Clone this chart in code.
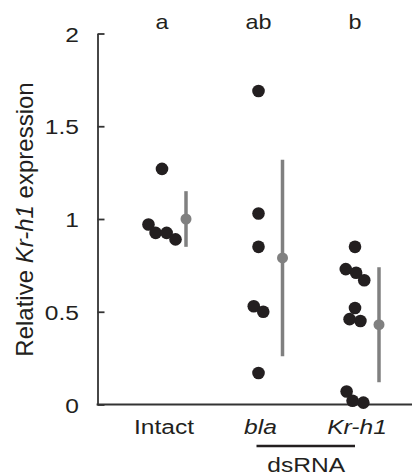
<!DOCTYPE html>
<html>
<head>
<meta charset="utf-8">
<script src="https://cdn.jsdelivr.net/npm/d3@7"></script>
<style>
  html, body { margin: 0; padding: 0; background: #fff; }
  svg { display: block; font-family: "Liberation Sans", Arial, sans-serif; }
</style>
</head>
<body>
<div id="d3-container"></div>
<script>
/**
 * CONSTANTS AND GLOBALS
 * */
const width = 414,
  height = 476,
  margin = { top: 33.5, bottom: 71.5, left: 97.5, right: 2 },
  radius = 6.3,
  meanRadius = 5.5,
  stretch = 1.17; // the figure's lettering is a little wider than Arial

// DATA
const groups = ["Intact", "bla", "Kr-h1"];
const intactValues = [1.27, 0.97, 0.925, 0.925, 0.89];
const blaValues = [1.69, 1.03, 0.85, 0.53, 0.5, 0.17];
const krh1Values = [0.85, 0.73, 0.71, 0.67, 0.52, 0.46, 0.45, 0.07, 0.02, 0.01];
const groupMeans = [1.0, 0.79, 0.43];
const groupSDs = [0.15, 0.53, 0.31];
const sigLetters = ["a", "ab", "b"];
const yTicks = [0, 0.5, 1, 1.5, 2];

const ink = "#231f20",
  axisColor = "#333",
  grey = "#808080";

let svg;
let xScale;
let yScale;

/**
 * INIT
 * */
function init() {
  xScale = d3
    .scalePoint()
    .domain(groups)
    .range([162, 355]);

  yScale = d3
    .scaleLinear()
    .domain([0, 2])
    .range([height - margin.bottom, margin.top]);

  svg = d3
    .select("#d3-container")
    .append("svg")
    .attr("width", width)
    .attr("height", height);

  // y axis, ticks pointing inward
  const yAxis = d3
    .axisLeft(yScale)
    .tickValues(yTicks)
    .tickSizeInner(-7)
    .tickSizeOuter(0)
    .tickPadding(18.5)
    .tickFormat(d3.format(""));

  const yG = svg
    .append("g")
    .attr("class", "axis y-axis")
    .attr("transform", `translate(${margin.left},0)`)
    .call(yAxis);

  yG.select(".domain").attr("stroke", axisColor).attr("stroke-width", 1.8);
  yG.selectAll(".tick line").attr("stroke", axisColor).attr("stroke-width", 1.8);
  yG.selectAll(".tick text")
    .attr("fill", ink)
    .attr("font-size", 21)
    .attr("font-family", null)
    .attr("x", -18.5 / stretch)
    .attr("dy", "0.36em")
    .attr("transform", `scale(${stretch},1)`);

  // x axis: plain baseline
  svg
    .append("line")
    .attr("class", "axis x-axis")
    .attr("x1", margin.left - 0.9)
    .attr("x2", width - margin.right)
    .attr("y1", yScale(0))
    .attr("y2", yScale(0))
    .attr("stroke", axisColor)
    .attr("stroke-width", 1.8);

  // y axis label
  const yLabel = svg
    .append("text")
    .attr("transform", `translate(33,${(yScale(0) + yScale(2)) / 2 + 0.5}) rotate(-90)`)
    .attr("text-anchor", "middle")
    .attr("font-size", 24)
    .attr("fill", ink);
  yLabel.append("tspan").text("Relative ");
  yLabel.append("tspan").attr("font-style", "italic").text("Kr-h1");
  yLabel.append("tspan").text(" expression");

  // category labels
  svg
    .selectAll(".cat-label")
    .data(groups)
    .join("text")
    .attr("class", "cat-label")
    .attr("transform", d => `translate(${xScale(d) + 2},434) scale(${stretch},1)`)
    .attr("text-anchor", "middle")
    .attr("font-size", 21)
    .attr("font-style", d => (d === "Intact" ? "normal" : "italic"))
    .attr("fill", ink)
    .text(d => d);

  // dsRNA bracket
  svg
    .append("line")
    .attr("x1", xScale("bla") - 2)
    .attr("x2", xScale("Kr-h1"))
    .attr("y1", 446)
    .attr("y2", 446)
    .attr("stroke", ink)
    .attr("stroke-width", 2.5);

  svg
    .append("text")
    .attr("transform", `translate(${(xScale("bla") + xScale("Kr-h1")) / 2 - 0.5},472) scale(${stretch},1)`)
    .attr("text-anchor", "middle")
    .attr("font-size", 21)
    .attr("fill", ink)
    .text("dsRNA");

  // significance letters
  svg
    .selectAll(".sig")
    .data(groups)
    .join("text")
    .attr("class", "sig")
    .attr("transform", (d, i) => `translate(${xScale(d)},28.5) scale(${stretch},1)`)
    .attr("text-anchor", "middle")
    .attr("font-size", 20)
    .attr("fill", ink)
    .text((d, i) => sigLetters[i]);

  draw();
}

// spread points that overlap vertically sideways, keep each cluster centred
function dodge(values, cx) {
  const minDist = 11;
  const sorted = values
    .map(v => ({ v, y: yScale(v) }))
    .sort((a, b) => a.y - b.y);
  const chains = [];
  sorted.forEach((p, i) => {
    const prev = sorted[i - 1];
    if (prev && p.y - prev.y < minDist) {
      p.dx = prev.dx + Math.sqrt(minDist * minDist - (p.y - prev.y) ** 2);
      chains[chains.length - 1].push(p);
    } else {
      p.dx = 0;
      chains.push([p]);
    }
  });
  chains.forEach(c => {
    const shift = c[c.length - 1].dx / 2;
    c.forEach(p => (p.x = cx + p.dx - shift));
  });
  return sorted;
}

/**
 * DRAW
 * */
function draw() {
  const allValues = [intactValues, blaValues, krh1Values];

  const points = groups.flatMap((g, i) =>
    dodge(allValues[i], xScale(g)).map(p => ({ group: g, ...p }))
  );

  svg
    .selectAll(".dot")
    .data(points)
    .join("circle")
    .attr("class", "dot")
    .attr("cx", d => d.x)
    .attr("cy", d => d.y)
    .attr("r", radius)
    .attr("fill", ink);

  const summary = groups.map((g, i) => ({
    group: g,
    mean: groupMeans[i],
    sd: groupSDs[i],
  }));

  const meanOffset = 24;

  svg
    .selectAll(".sd-bar")
    .data(summary)
    .join("line")
    .attr("class", "sd-bar")
    .attr("x1", d => xScale(d.group) + meanOffset)
    .attr("x2", d => xScale(d.group) + meanOffset)
    .attr("y1", d => yScale(d.mean + d.sd))
    .attr("y2", d => yScale(d.mean - d.sd))
    .attr("stroke", grey)
    .attr("stroke-width", 3.5);

  svg
    .selectAll(".mean-dot")
    .data(summary)
    .join("circle")
    .attr("class", "mean-dot")
    .attr("cx", d => xScale(d.group) + meanOffset)
    .attr("cy", d => yScale(d.mean))
    .attr("r", meanRadius)
    .attr("fill", grey);
}

init();
</script>
</body>
</html>
